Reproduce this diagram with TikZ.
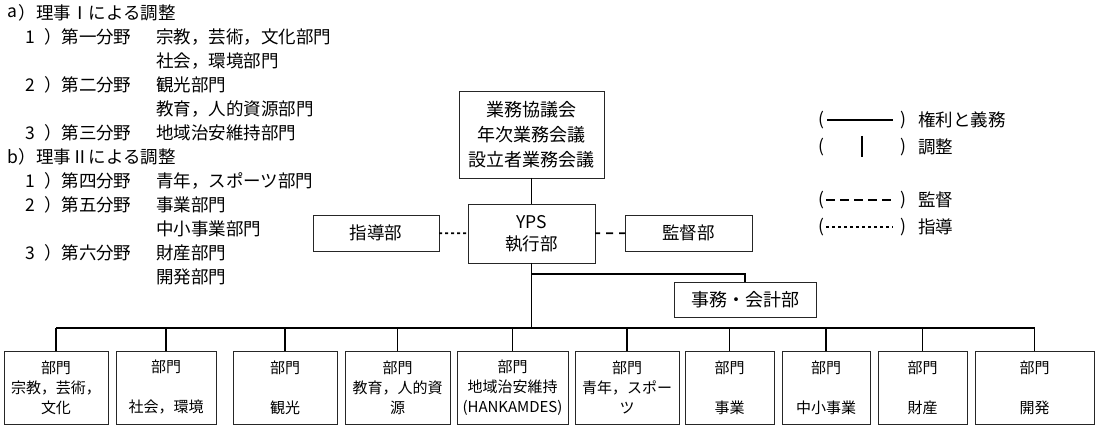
\documentclass[tikz,border=0pt]{standalone}
\usepackage{fontspec}
\setmainfont{Noto Sans CJK JP}
\begin{document}
\begin{tikzpicture}[x=1pt,y=-1pt,
  every node/.style={inner sep=0pt, outer sep=0pt},
  txt/.style={font=\fontsize{17.5}{24}\selectfont, anchor=west},
  num/.style={font=\fontsize{17.5}{24}\selectfont},
  bx/.style={draw=black!85, line width=0.9pt, align=center},
  big/.style={font=\fontsize{18}{25}\selectfont},
  mid/.style={font=\fontsize{17.5}{22}\selectfont},
  small/.style={font=\fontsize{15}{20}\selectfont},
  conn/.style={line width=1.6pt},
  dept/.style={bx, small, minimum height=73pt},
  legline/.style={line width=1.6pt},
]
\useasboundingbox (0,0) rectangle (1096,427);

% ---- left text ----
\node[num] (la0) at (12.5,13) {a};
\node[txt] (la1) at (19,13) {）理事Ⅰによる調整};
\node[num] (n1) at (30,37) {1};
\node[txt] (f1) at (44,37) {）第一分野};
\node[txt] (c1) at (156,37) {宗教，芸術，文化部門};
\node[txt] (c2) at (156,61) {社会，環境部門};
\node[num] (n2) at (30,85) {2};
\node[txt] (f2) at (44,85) {）第二分野};
\node[txt] (c3) at (156,85) {観光部門};
\node[txt] (c4) at (156,109) {教育，人的資源部門};
\node[num] (n3) at (30,133) {3};
\node[txt] (f3) at (44,133) {）第三分野};
\node[txt] (c5) at (156,133) {地域治安維持部門};
\node[num] (lb0) at (12.5,157) {b};
\node[txt] (lb1) at (19,157) {）理事Ⅱによる調整};
\node[num] (n4) at (30,181) {1};
\node[txt] (f4) at (44,181) {）第四分野};
\node[txt] (c6) at (156,181) {青年，スポーツ部門};
\node[num] (n5) at (30,205) {2};
\node[txt] (f5) at (44,205) {）第五分野};
\node[txt] (c7) at (156,205) {事業部門};
\node[txt] (c8) at (156,229) {中小事業部門};
\node[num] (n6) at (30,253) {3};
\node[txt] (f6) at (44,253) {）第六分野};
\node[txt] (c9) at (156,253) {財産部門};
\node[txt] (c10) at (156,277) {開発部門};

% ---- central boxes ----
\node[bx,big,minimum width=145pt,minimum height=87pt] (council) at (531.5,134.5) {業務協議会\\年次業務会議\\設立者業務会議};
\node[bx,mid,minimum width=127pt,minimum height=59pt] (yps) at (531.5,233.5) {YPS\\執行部};
\node[bx,mid,minimum width=126pt,minimum height=36pt] (guide) at (376,233) {指導部};
\node[bx,mid,minimum width=127pt,minimum height=36pt] (audit) at (688.5,233) {監督部};
\node[bx,big,minimum width=142pt,minimum height=35pt] (acct) at (745,299.5) {事務・会計部};

% ---- department boxes ----
\node[dept,minimum width=104pt] (d1) at (56,387.5) {部門\\宗教，芸術，\\文化};
\node[dept,minimum width=100pt] (d2) at (166,387.5) {部門\\\mbox{}\\社会，環境};
\node[dept,minimum width=104pt] (d3) at (285,387.5) {部門\\\mbox{}\\観光};
\node[dept,minimum width=105pt] (d4) at (397.5,387.5) {部門\\教育，人的資\\源};
\node[dept,minimum width=111pt] (d5) at (512.5,387.5) {部門\\地域治安維持\\(HANKAMDES)};
\node[dept,minimum width=104pt] (d6) at (627,387.5) {部門\\青年，スポー\\ツ};
\node[dept,minimum width=89pt] (d7) at (729.5,387.5) {部門\\\mbox{}\\事業};
\node[dept,minimum width=88pt] (d8) at (826,387.5) {部門\\\mbox{}\\中小事業};
\node[dept,minimum width=89pt] (d9) at (922.5,387.5) {部門\\\mbox{}\\財産};
\node[dept,minimum width=119pt] (d10) at (1034.5,387.5) {部門\\\mbox{}\\開発};

% ---- connectors ----
\coordinate (bus) at (0,328);
\coordinate (br) at (531.5,274);
\draw[conn] (council) -- (yps);
\draw[conn, dash pattern=on 3pt off 3pt] (guide) -- (yps);
\draw[conn, dash pattern=on 7pt off 6pt, dash phase=2pt] (yps) -- (audit);
\draw[conn] (yps) -- (yps.south |- bus);
\draw[conn] (br) -| (acct.north);
\draw[conn] (d1.north |- bus) -- (d10.north |- bus);
\foreach \d in {d1,d2,d3,d4,d5,d6,d7,d8,d9,d10}
  \draw[conn] (\d.north |- bus) -- (\d.north);

% ---- legend ----
\node[num] (lp1) at (821,120) {(};
\node[num] (rp1) at (903,120) {)};
\node[txt] (lt1) at (918,120) {権利と義務};
\node[num] (lp2) at (821,147) {(};
\node[num] (rp2) at (903,147) {)};
\node[txt] (lt2) at (918,147) {調整};
\node[num] (lp3) at (821,200) {(};
\node[num] (rp3) at (903,200) {)};
\node[txt] (lt3) at (918,200) {監督};
\node[num] (lp4) at (821,227) {(};
\node[num] (rp4) at (903,227) {)};
\node[txt] (lt4) at (918,227) {指導};
\coordinate (s1a) at (827,120); \coordinate (s1b) at (893,120);
\coordinate (s2a) at (862,136); \coordinate (s2b) at (862,157);
\coordinate (s3a) at (826,200); \coordinate (s3b) at (893,200);
\coordinate (s4a) at (826,227); \coordinate (s4b) at (893,227);
\draw[legline] (s1a) -- (s1b);
\draw[legline, line width=2pt] (s2a) -- (s2b);
\draw[legline, line width=1.5pt, dash pattern=on 9pt off 5pt] (s3a) -- (s3b);
\draw[legline, line width=1.2pt, dash pattern=on 2.5pt off 3.5pt] (s4a) -- (s4b);
\end{tikzpicture}
\end{document}
